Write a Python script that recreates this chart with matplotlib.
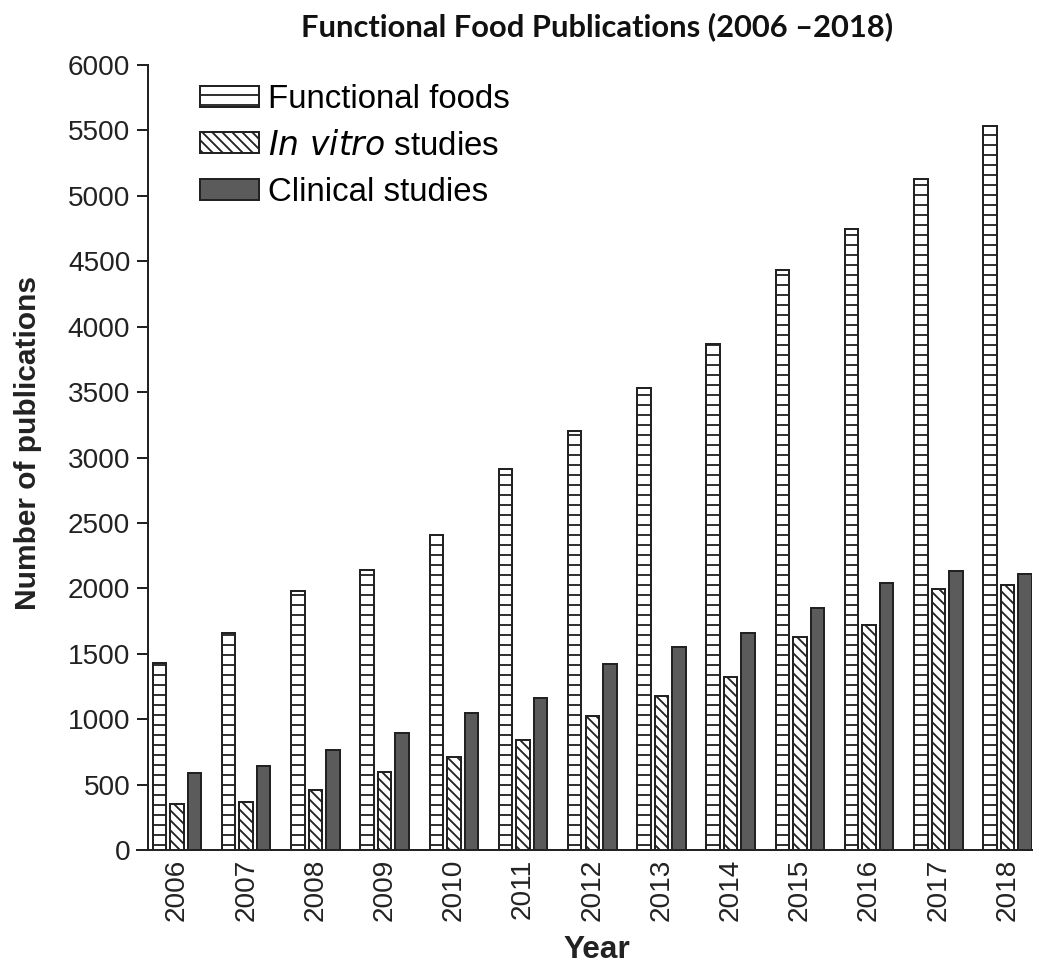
import matplotlib
matplotlib.use('Agg')
import matplotlib.pyplot as plt
import numpy as np

years = ['2006', '2007', '2008', '2009', '2010', '2011', '2012',
         '2013', '2014', '2015', '2016', '2017', '2018']
functional_foods = [1430, 1660, 1980, 2140, 2410, 2910, 3200, 3530, 3870, 4430, 4750, 5130, 5530]
in_vitro = [350, 365, 460, 595, 710, 840, 1025, 1175, 1320, 1630, 1720, 1995, 2025]
clinical = [590, 645, 765, 895, 1050, 1165, 1420, 1550, 1660, 1850, 2040, 2135, 2110]

edge = '#222222'
plt.rcParams['font.family'] = ['Liberation Sans', 'DejaVu Sans']
plt.rcParams['hatch.linewidth'] = 1.1
plt.rcParams['hatch.color'] = edge

dpi = 120
fig = plt.figure(figsize=(1038 / dpi, 966 / dpi), dpi=dpi)
ax = fig.add_axes([137 / 1038, 1 - 850 / 966, (1032 - 137) / 1038, (850 - 65) / 966])

x = np.arange(len(years))
w = 0.195
off = 0.253
ax.bar(x - off, functional_foods, w, color='white', edgecolor=edge, linewidth=1.2,
       hatch='--', label='Functional foods')
ax.bar(x, in_vitro, w, color='white', edgecolor=edge, linewidth=1.2,
       hatch='\\\\\\\\', label='$\\it{In\\ vitro}$ studies')
ax.bar(x + off, clinical, w, color='#5b5b5b', edgecolor=edge, linewidth=1.2,
       label='Clinical studies')

ax.set_xlim(-0.578, 12.354)
ax.set_ylim(0, 6000)
ax.set_yticks(np.arange(0, 6001, 500))
ax.set_xticks(x)
ax.set_xticklabels(years, rotation=90)

for s in ['top', 'right']:
    ax.spines[s].set_visible(False)
ax.spines['left'].set_position(('axes', 11 / 895))
ax.spines['left'].set_linewidth(1.2)
ax.spines['bottom'].set_linewidth(1.2)
ax.spines['left'].set_color(edge)
ax.spines['bottom'].set_color(edge)
ax.tick_params(axis='y', length=6.6, width=1.2, labelsize=16.8, pad=4, colors=edge)
ax.tick_params(axis='x', length=0, labelsize=16.8, pad=5, colors=edge)

fig.text(28 / 1038, 1 - 443 / 966, 'Number of publications', rotation=90, fontsize=17.9,
         fontweight='bold', ha='center', va='center', color=edge)
fig.text(597 / 1038, 1 - 950 / 966, 'Year', fontsize=19, fontweight='bold',
         ha='center', va='center', color=edge)
fig.text(597 / 1038, 1 - 27 / 966, 'Functional Food Publications (2006 \u20132018)',
         fontsize=18.5, fontweight='bold', family=['Lato', 'DejaVu Sans'],
         ha='center', va='center', color='#111111')

ax.legend(loc='upper left', bbox_to_anchor=(200 / 1038, 1 - 84 / 966),
          bbox_transform=fig.transFigure, frameon=False, fontsize=19.8,
          handlelength=1.8, handleheight=0.6, handletextpad=0.25,
          labelspacing=0.47, borderpad=0, borderaxespad=0)

fig.savefig('out.png', dpi=dpi)
